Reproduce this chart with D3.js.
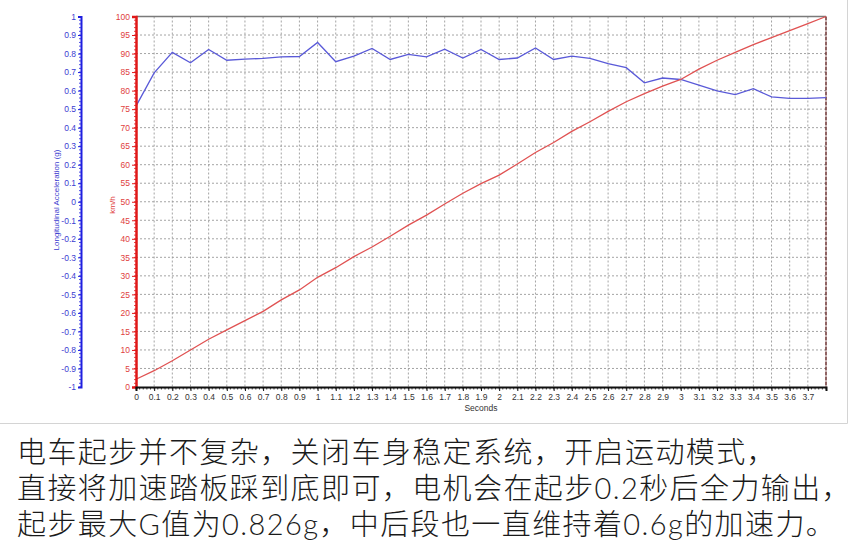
<!DOCTYPE html>
<html>
<head>
<meta charset="utf-8">
<script src="https://cdn.jsdelivr.net/npm/d3@7"></script>
<style>
  body { margin: 0; background: #fff; }
  svg { display: block; }
</style>
</head>
<body>
<script>
// datos
const seconds = [0, 0.1, 0.2, 0.3, 0.4, 0.5, 0.6, 0.7, 0.8, 0.9, 1.0, 1.1, 1.2, 1.3, 1.4, 1.5, 1.6, 1.7, 1.8, 1.9,
  2.0, 2.1, 2.2, 2.3, 2.4, 2.5, 2.6, 2.7, 2.8, 2.9, 3.0, 3.1, 3.2, 3.3, 3.4, 3.5, 3.6, 3.7, 3.8];
const speedKmh = [2.1, 4.4, 7.1, 10.0, 12.9, 15.4, 17.9, 20.4, 23.5, 26.2, 29.6, 32.2, 35.2, 37.8, 40.7, 43.7, 46.4, 49.4, 52.3, 54.9,
  57.2, 60.2, 63.3, 66.0, 69.0, 71.6, 74.4, 77.0, 79.2, 81.2, 83.0, 85.8, 88.2, 90.3, 92.4, 94.3, 96.2, 98.1, 100];
const accelG = [0.516, 0.696, 0.806, 0.75, 0.822, 0.764, 0.77, 0.774, 0.782, 0.784, 0.86, 0.756, 0.786, 0.828, 0.768, 0.796, 0.782, 0.824, 0.776, 0.822,
  0.768, 0.776, 0.83, 0.768, 0.786, 0.774, 0.746, 0.724, 0.642, 0.668, 0.66, 0.63, 0.598, 0.578, 0.61, 0.566, 0.558, 0.558, 0.562];
const secondTicks = d3.range(0, 38).map(i => i / 10);
const kmhTicks = d3.range(0, 101, 5);
const gTicks = d3.range(-10, 11).map(i => i / 10);
const captionLines = [
  "电车起步并不复杂，关闭车身稳定系统，开启运动模式，",
  "直接将加速踏板踩到底即可，电机会在起步0.2秒后全力输出，",
  "起步最大G值为0.826g，中后段也一直维持着0.6g的加速力。"
];

width = 852;
height = 559;

svg = d3.select("body").append("svg")
  .attr("width", width)
  .attr("height", height);

// marco de la imagen original
svg.append("path")
  .attr("d", "M0,423.5H847.5V0")
  .attr("fill", "none")
  .attr("stroke", "#d4d4d4");

// escalas
x = d3.scaleLinear().domain([0, 3.8]).range([136, 826]);
yKmh = d3.scaleLinear().domain([0, 100]).range([387, 16.5]);
yG = d3.scaleLinear().domain([-1, 1]).range([387, 16.5]);

tickFont = "Liberation Sans, Arial, sans-serif";

// rejilla punteada
grid = svg.append("g").attr("stroke", "#9a9a9a").attr("stroke-dasharray", "2,2").attr("stroke-width", 0.9);
grid.selectAll("line.v")
  .data(secondTicks.filter(d => d > 0))
  .enter().append("line")
  .attr("x1", d => x(d)).attr("x2", d => x(d))
  .attr("y1", yKmh(100)).attr("y2", yKmh(0));
grid.selectAll("line.h")
  .data(kmhTicks.filter(d => d > 0 && d < 100))
  .enter().append("line")
  .attr("x1", x(0)).attr("x2", x(3.8))
  .attr("y1", d => yKmh(d)).attr("y2", d => yKmh(d));

// borde superior y derecho del área
svg.append("line")
  .attr("x1", x(0)).attr("x2", x(3.8))
  .attr("y1", yKmh(100)).attr("y2", yKmh(100))
  .attr("stroke", "#7a7a7a").attr("stroke-width", 1.5);
svg.append("line")
  .attr("x1", x(3.8)).attr("x2", x(3.8))
  .attr("y1", yKmh(100)).attr("y2", yKmh(0))
  .attr("stroke", "#6b3030").attr("stroke-width", 1.5)
  .attr("stroke-dasharray", "4,1");

// líneas de datos
svg.append("path")
  .datum(d3.zip(seconds, accelG))
  .attr("fill", "none")
  .attr("stroke", "#5a5ad8")
  .attr("stroke-width", 1.3)
  .attr("d", d3.line().x(d => x(d[0])).y(d => yG(d[1])));

svg.append("path")
  .datum(d3.zip(seconds, speedKmh))
  .attr("fill", "none")
  .attr("stroke", "#e05252")
  .attr("stroke-width", 1.3)
  .attr("d", d3.line().x(d => x(d[0])).y(d => yKmh(d[1])));

fmt = d => String(+d.toFixed(1));

// eje de aceleración (azul)
gAxis = svg.append("g")
  .attr("transform", "translate(81,0)")
  .call(d3.axisLeft(yG).tickValues(gTicks).tickFormat(fmt).tickSize(3).tickPadding(2));
gAxis.select(".domain").attr("stroke", "#1f1fe0").attr("stroke-width", 2);
gAxis.selectAll(".tick line").attr("stroke", "#1f1fe0");
gAxis.selectAll("text").attr("fill", "#3b3bd0").style("font", `8.5px ${tickFont}`);
gAxis.append("g").selectAll("line")
  .data(d3.range(-50, 51).map(i => i / 50))
  .enter().append("line")
  .attr("x1", -2).attr("x2", 0)
  .attr("y1", d => yG(d)).attr("y2", d => yG(d))
  .attr("stroke", "#1f1fe0").attr("stroke-width", 0.8);

// eje de velocidad (rojo)
kAxis = svg.append("g")
  .attr("transform", "translate(136,0)")
  .call(d3.axisLeft(yKmh).tickValues(kmhTicks).tickFormat(fmt).tickSize(4).tickPadding(2));
kAxis.select(".domain").attr("stroke", "#e01818").attr("stroke-width", 2.5);
kAxis.selectAll(".tick line").attr("stroke", "#e01818");
kAxis.selectAll("text").attr("fill", "#e04040").style("font", `8.5px ${tickFont}`);
kAxis.append("g").selectAll("line")
  .data(d3.range(0, 101))
  .enter().append("line")
  .attr("x1", -2).attr("x2", 0)
  .attr("y1", d => yKmh(d)).attr("y2", d => yKmh(d))
  .attr("stroke", "#e01818").attr("stroke-width", 0.8);

// eje de tiempo
tAxis = svg.append("g")
  .attr("transform", "translate(0,387)")
  .call(d3.axisBottom(x).tickValues(secondTicks).tickFormat(fmt).tickSize(4).tickPadding(3));
tAxis.select(".domain").attr("stroke", "#111").attr("stroke-width", 2);
tAxis.selectAll(".tick line").attr("stroke", "#111");
tAxis.selectAll("text").attr("fill", "#333").style("font", `8.5px ${tickFont}`);
tAxis.append("g").selectAll("line")
  .data(d3.range(0, 191).map(i => i / 50))
  .enter().append("line")
  .attr("x1", d => x(d)).attr("x2", d => x(d))
  .attr("y1", 0).attr("y2", 2.5)
  .attr("stroke", "#111").attr("stroke-width", 0.8);

// títulos de los ejes
svg.append("text")
  .attr("transform", "translate(59,200) rotate(-90)")
  .attr("text-anchor", "middle")
  .attr("fill", "#3b3bd0")
  .style("font", `8px ${tickFont}`)
  .text("Longitudinal Acceleration (g)");
svg.append("text")
  .attr("transform", "translate(115,205) rotate(-90)")
  .attr("text-anchor", "middle")
  .attr("fill", "#e04040")
  .style("font", `8px ${tickFont}`)
  .text("km/h");
svg.append("text")
  .attr("x", x(1.9)).attr("y", 411)
  .attr("text-anchor", "middle")
  .attr("fill", "#333")
  .style("font", `8.5px ${tickFont}`)
  .text("Seconds");

// texto inferior
svg.append("g").selectAll("text")
  .data(captionLines)
  .enter().append("text")
  .attr("x", 17)
  .attr("y", (d, i) => 463 + i * 36)
  .attr("fill", "#1a1a1a")
  .style("font-family", "Lato, 'Noto Sans CJK SC', sans-serif")
  .style("font-weight", 300)
  .style("font-size", "29px")
  .style("letter-spacing", "1.4px")
  .text(d => d);
</script>
</body>
</html>
